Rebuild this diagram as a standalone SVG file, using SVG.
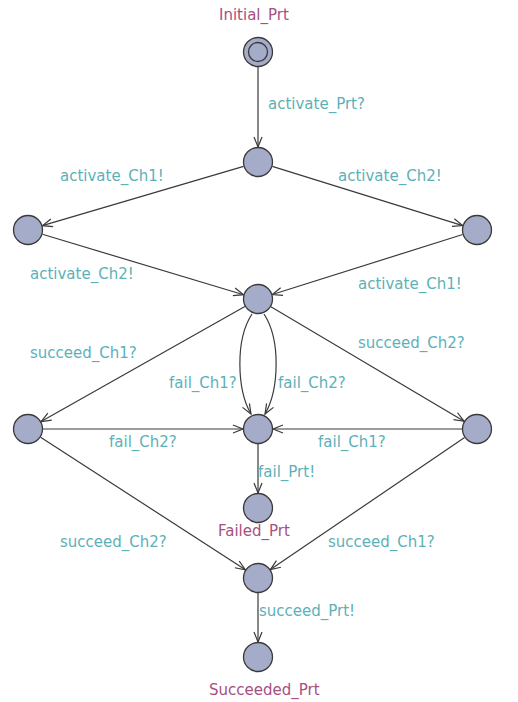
<svg xmlns="http://www.w3.org/2000/svg" width="518" height="702" viewBox="0 0 518 702">
<defs>
<style>
.node{fill:#a4acca;stroke:#3a3a3a;stroke-width:1.3}
.edge{fill:none;stroke:#3a3a3a;stroke-width:1.2;marker-end:url(#arr)}
.lbl{font-family:"DejaVu Sans",sans-serif;font-size:15px;fill:#5cb1b8}
.name{font-family:"DejaVu Sans",sans-serif;font-size:15px;fill:#a5507f}
</style>
<marker id="arr" viewBox="-11 -5 12 10" refX="0" refY="0" markerWidth="12" markerHeight="10" markerUnits="userSpaceOnUse" orient="auto">
<path d="M-10,-4 L0,0 L-10,4" fill="none" stroke="#3a3a3a" stroke-width="1.2"/>
</marker>
</defs>
<rect width="518" height="702" fill="#ffffff"/>
<g id="edges">
<path class="edge" d="M258,67 L258,147"/>
<path class="edge" d="M243.6,166.3 L42.4,225.7"/>
<path class="edge" d="M272.3,166.4 L462.7,225.6"/>
<path class="edge" d="M42.4,234.3 L243.6,294.7"/>
<path class="edge" d="M462.7,234.5 L272.3,294.5"/>
<path class="edge" d="M244.9,306.4 L41.1,421.6"/>
<path class="edge" d="M270.9,306.7 L464.1,421.3"/>
<path class="edge" d="M252,314 C235,340 237,390 251,414"/>
<path class="edge" d="M264,314 C281,340 279,390 265,414"/>
<path class="edge" d="M43,429 L243,429"/>
<path class="edge" d="M462,429 L273,429"/>
<path class="edge" d="M258,444 L258,493"/>
<path class="edge" d="M40.6,437.2 L245.4,569.8"/>
<path class="edge" d="M464.6,437.4 L270.4,569.6"/>
<path class="edge" d="M258,593 L258,642"/>
<text class="lbl" x="268" y="109">activate_Prt?</text>
<text class="lbl" x="60" y="181">activate_Ch1!</text>
<text class="lbl" x="338" y="181">activate_Ch2!</text>
<text class="lbl" x="30" y="279">activate_Ch2!</text>
<text class="lbl" x="358" y="289">activate_Ch1!</text>
<text class="lbl" x="30" y="358">succeed_Ch1?</text>
<text class="lbl" x="358" y="348">succeed_Ch2?</text>
<text class="lbl" x="169" y="388">fail_Ch1?</text>
<text class="lbl" x="278" y="388">fail_Ch2?</text>
<text class="lbl" x="109" y="447">fail_Ch2?</text>
<text class="lbl" x="318" y="447">fail_Ch1?</text>
<text class="lbl" x="258" y="477">fail_Prt!</text>
<text class="lbl" x="60" y="547">succeed_Ch2?</text>
<text class="lbl" x="328" y="547">succeed_Ch1?</text>
<text class="lbl" x="259" y="616">succeed_Prt!</text>
</g>
<g id="Initial_Prt">
<circle class="node" cx="258" cy="52" r="14.5"/>
<circle class="node" cx="258" cy="52" r="9.5"/>
<text class="name" x="219" y="20">Initial_Prt</text>
</g>
<g id="n1"><circle class="node" cx="258" cy="162" r="14.5"/></g>
<g id="l1"><circle class="node" cx="28" cy="230" r="14.5"/></g>
<g id="r1"><circle class="node" cx="477" cy="230" r="14.5"/></g>
<g id="m"><circle class="node" cx="258" cy="299" r="14.5"/></g>
<g id="l2"><circle class="node" cx="28" cy="429" r="14.5"/></g>
<g id="c"><circle class="node" cx="258" cy="429" r="14.5"/></g>
<g id="r2"><circle class="node" cx="477" cy="429" r="14.5"/></g>
<g id="Failed_Prt">
<circle class="node" cx="258" cy="508" r="14.5"/>
<text class="name" x="218" y="536">Failed_Prt</text>
</g>
<g id="s"><circle class="node" cx="258" cy="578" r="14.5"/></g>
<g id="Succeeded_Prt">
<circle class="node" cx="258" cy="657" r="14.5"/>
<text class="name" x="209" y="695">Succeeded_Prt</text>
</g>
</svg>
